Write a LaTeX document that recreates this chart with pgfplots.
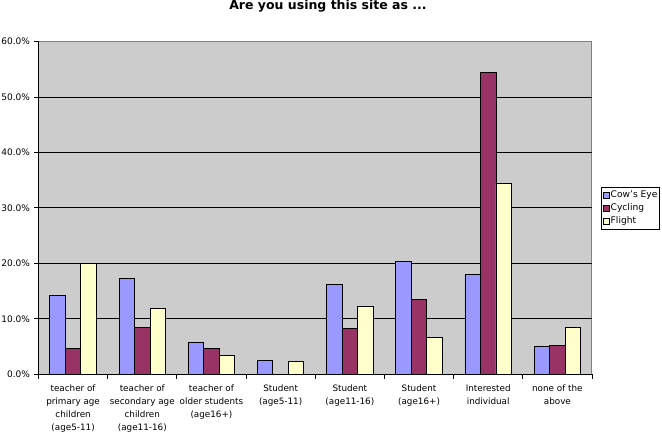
\documentclass[border=0pt]{standalone}
\usepackage{fontspec}
\setmainfont{DejaVu Sans}
\usepackage{pgfplots}
\pgfplotsset{compat=1.18}
\definecolor{cow}{HTML}{9999FF}
\definecolor{cyc}{HTML}{993366}
\definecolor{fli}{HTML}{FFFFCC}
\definecolor{bg}{HTML}{CCCCCC}
\begin{document}
\begin{tikzpicture}[x=1pt,y=1pt]
\begin{axis}[
  at={(38.5pt,58.7pt)}, anchor=south west,
  scale only axis, width=553.5pt, height=332.8pt,
  xmin=-0.5, xmax=7.5, ymin=0, ymax=60,
  axis x line*=bottom, axis y line*=left,
  axis line style={black, line width=0.9pt, -},
  axis background/.style={fill=bg, draw=gray, line width=1pt},
  ybar=0pt, bar width=15.5pt,
  xtick={0,...,7},
  xticklabels={{teacher of\\primary age\\children\\(age5-11)},
               {teacher of\\secondary age\\children\\(age11-16)},
               {teacher of\\older students\\(age16+)},
               {Student\\(age5-11)},
               {Student\\(age11-16)},
               {Student\\(age16+)},
               {Interested\\individual},
               {none of the\\above}},
  xticklabel style={align=center, font=\fontsize{8.8}{13}\selectfont, yshift=-2pt},
  x tick style={draw=none},
  minor xtick={-0.5,0.5,...,7.5},
  minor x tick style={draw=black, line width=0.9pt},
  minor tick length=4.5pt,
  ytick={0,10,...,60},
  major tick length=4.5pt,
  y tick style={black, line width=0.9pt},
  tick align=outside,
  yticklabel={\pgfmathprintnumber[fixed,fixed zerofill,precision=1]{\tick}\%},
  yticklabel style={font=\fontsize{9}{10}\selectfont, xshift=-0.5pt},
  /pgf/number format/assume math mode=true,
  extra y ticks={10,20,30,40,50},
  extra y tick labels={},
  extra y tick style={ymajorgrids=true, major tick length=0pt, major grid style={black, line width=0.9pt}},
  legend style={at={(1.0168,0.5637)}, anchor=north west, draw=black, line width=0.9pt,
    font=\fontsize{9.1}{11}\selectfont, inner xsep=1.2pt, inner ysep=2.5pt, row sep=2pt, legend cell align=left,
    nodes={inner xsep=1.1pt, inner ysep=1.3pt}},
  legend image code/.code={\draw[#1, line width=0.7pt, draw=black] (0pt,-3pt) rectangle (6pt,3pt);},
]
\addplot[fill=cow, draw=black, line width=0.9pt] coordinates {(0,14.2) (1,17.3) (2,5.8) (3,2.5) (4,16.2) (5,20.4) (6,18.0) (7,5.0)};
\addplot[fill=cyc, draw=black, line width=0.9pt] coordinates {(0,4.7) (1,8.5) (2,4.7) (3,0) (4,8.3) (5,13.5) (6,54.5) (7,5.2)};
\addplot[fill=fli, draw=black, line width=0.9pt] coordinates {(0,20.0) (1,11.9) (2,3.4) (3,2.3) (4,12.3) (5,6.7) (6,34.4) (7,8.5)};
\legend{Cow's Eye, Cycling, Flight}
\end{axis}
\node[font=\bfseries\fontsize{12.5}{14}\selectfont] at (328,426.5) {Are you using this site as ...};
\pgfresetboundingbox
\path (0,0) rectangle (662,433);
\end{tikzpicture}
\end{document}
